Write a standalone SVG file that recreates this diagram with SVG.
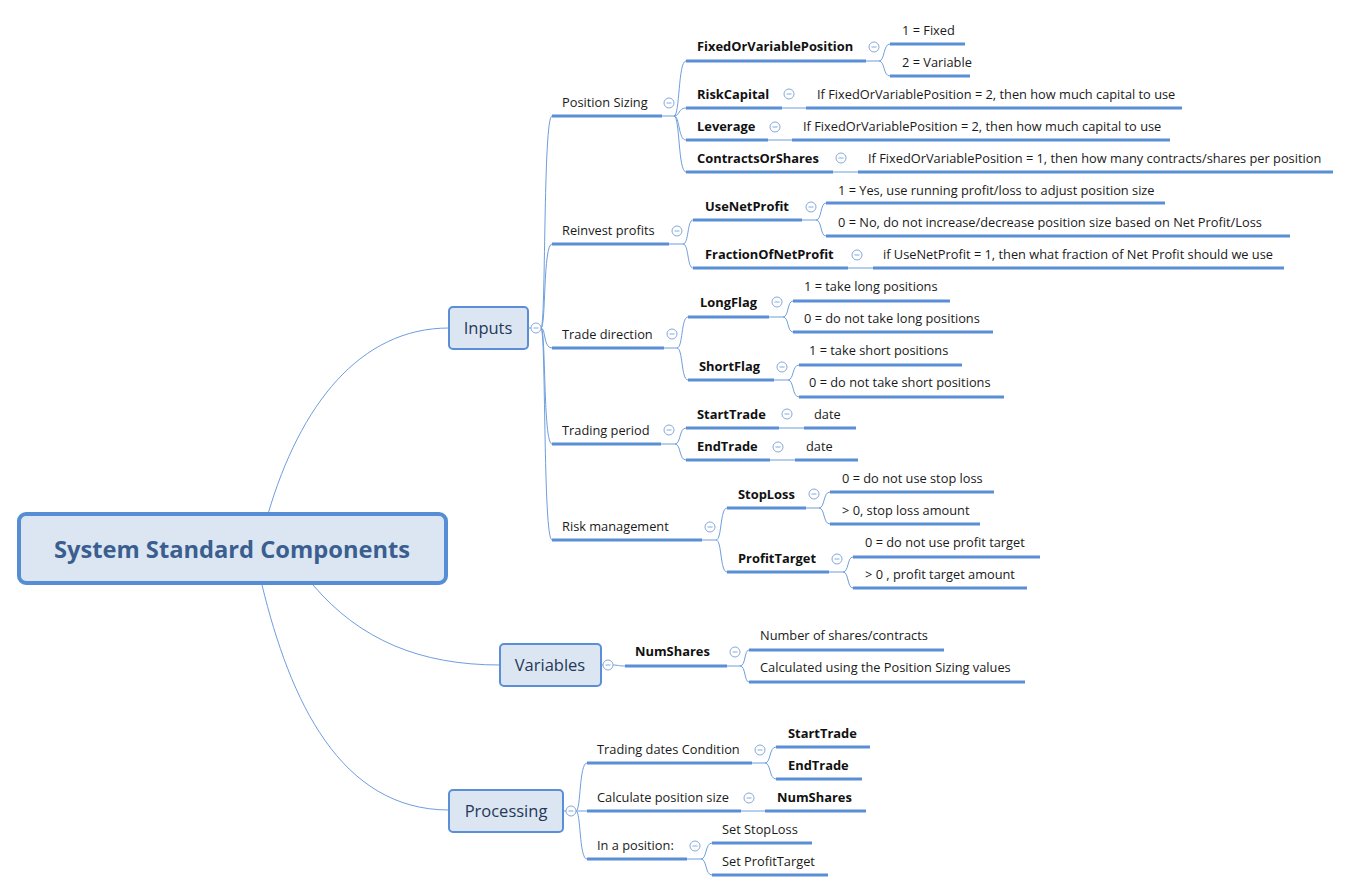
<svg xmlns="http://www.w3.org/2000/svg" width="1351" height="892" viewBox="0 0 1351 892">
<style>
.u{stroke:#5A8ED6;stroke-width:3;fill:none}
.c{stroke:#6E9EDD;stroke-width:1;fill:none}
.t{font-family:"Open Sans","Liberation Sans",sans-serif;font-size:12.8px;fill:#1a1a1a}
.b{font-family:"Open Sans","Liberation Sans",sans-serif;font-size:12.9px;font-weight:bold;fill:#111}
.m{fill:#DCE6F2;stroke:#5A8ED6;stroke-width:2}
.mt{font-family:"Open Sans","Liberation Sans",sans-serif;font-size:16.5px;fill:#243858;text-anchor:middle}
.ci{fill:#fff;stroke:#86A9DA;stroke-width:1}
.mi{stroke:#86A9DA;stroke-width:1}
</style>
<defs>
<g id="col"><circle class="ci" cx="0" cy="0" r="5"/><line class="mi" x1="-2.5" y1="0" x2="2.5" y2="0"/></g>
</defs>
<rect width="1351" height="892" fill="#fff"/>

<g id="connectors">
<!-- root to main topics -->
<path class="c" d="M268 514 C300 405,360 328,449 328"/>
<path class="c" d="M313 585 C360 640,420 665,500 665"/>
<path class="c" d="M262 585 C290 700,340 810,449 810"/>
<!-- Inputs trunk -->
<path class="c" d="M528 328 H531"/>
<path class="c" d="M541 328 C546 328,543 116,552 116"/>
<path class="c" d="M541 328 C546 328,543 244,552 244"/>
<path class="c" d="M541 328 C546 328,543 348,552 348"/>
<path class="c" d="M541 328 C546 328,543 444,552 444"/>
<path class="c" d="M541 328 C546 328,543 540,552 540"/>
<!-- Position Sizing fan -->
<path class="c" d="M662 116 H674 C680 116,678 61,686 61"/>
<path class="c" d="M674 116 C680 116,678 108,686 108"/>
<path class="c" d="M674 116 C680 116,678 140,686 140"/>
<path class="c" d="M674 116 C680 116,678 172,686 172"/>
<path class="c" d="M866 61 H879 C885 61,883 44,890 44"/>
<path class="c" d="M879 61 C885 61,883 76,890 76"/>
<path class="c" d="M782 108 H806"/>
<path class="c" d="M768 140 H792"/>
<path class="c" d="M833 172 H858"/>
<!-- Reinvest profits fan -->
<path class="c" d="M669 244 H683 C689 244,687 220,693 220"/>
<path class="c" d="M683 244 C689 244,687 268,693 268"/>
<path class="c" d="M802 220 H816 C822 220,820 203,826 203"/>
<path class="c" d="M816 220 C822 220,820 236,826 236"/>
<path class="c" d="M848 268 H873"/>
<!-- Trade direction fan -->
<path class="c" d="M664 348 H677 C683 348,681 317,688 317"/>
<path class="c" d="M677 348 C683 348,681 380,688 380"/>
<path class="c" d="M769 317 H783 C789 317,787 301,793 301"/>
<path class="c" d="M783 317 C789 317,787 332,793 332"/>
<path class="c" d="M774 380 H788 C794 380,792 365,799 365"/>
<path class="c" d="M788 380 C794 380,792 397,799 397"/>
<!-- Trading period fan -->
<path class="c" d="M661 444 H675 C681 444,679 428,686 428"/>
<path class="c" d="M675 444 C681 444,679 460,686 460"/>
<path class="c" d="M779 428 H804"/>
<path class="c" d="M770 460 H795"/>
<!-- Risk management fan -->
<path class="c" d="M702 540 H716 C722 540,720 508,727 508"/>
<path class="c" d="M716 540 C722 540,720 572,727 572"/>
<path class="c" d="M806 508 H819 C825 508,823 492,830 492"/>
<path class="c" d="M819 508 C825 508,823 524,830 524"/>
<path class="c" d="M829 572 H843 C849 572,847 557,853 557"/>
<path class="c" d="M843 572 C849 572,847 588,853 588"/>
<!-- Variables -->
<path class="c" d="M601 665 H603"/>
<path class="c" d="M613 665 C618 665,618 666,625 666"/>
<path class="c" d="M727 666 H740 C746 666,744 650,749 650"/>
<path class="c" d="M740 666 C746 666,744 682,749 682"/>
<!-- Processing -->
<path class="c" d="M563 811 H566"/>
<path class="c" d="M576 811 C581 811,579 763,587 763"/>
<path class="c" d="M576 811 H587"/>
<path class="c" d="M576 811 C581 811,579 859,587 859"/>
<path class="c" d="M752 763 H765 C771 763,769 747,776 747"/>
<path class="c" d="M765 763 C771 763,769 779,776 779"/>
<path class="c" d="M741 811 H765"/>
<path class="c" d="M687 859 H701 C707 859,705 843,712 843"/>
<path class="c" d="M701 859 C707 859,705 875,712 875"/>
</g>

<g id="root">
<rect x="19" y="514" width="427" height="69" rx="7" fill="#DCE6F2" stroke="#558ED5" stroke-width="4"/>
<text x="232" y="558" text-anchor="middle" font-family="Open Sans, Liberation Sans, sans-serif" font-size="23.7" font-weight="bold" fill="#3A5F8F">System Standard Components</text>
</g>

<g id="inputs">
<rect class="m" x="449" y="307" width="79" height="42" rx="4"/>
<text class="mt" x="488" y="334">Inputs</text>
<use href="#col" x="536" y="328"/>
</g>

<g id="position-sizing">
<line class="u" x1="552" y1="116" x2="662" y2="116"/>
<text class="t" x="562" y="107">Position Sizing</text>
<use href="#col" x="669" y="103"/>
</g>
<g id="fixed-or-variable">
<line class="u" x1="686" y1="61" x2="866" y2="61"/>
<text class="b" x="697" y="51">FixedOrVariablePosition</text>
<use href="#col" x="874" y="47"/>
</g>
<g id="fixed-1"><line class="u" x1="890" y1="44" x2="965" y2="44"/><text class="t" x="902" y="35">1 = Fixed</text></g>
<g id="variable-2"><line class="u" x1="890" y1="76" x2="970" y2="76"/><text class="t" x="902" y="67">2 = Variable</text></g>
<g id="risk-capital">
<line class="u" x1="686" y1="108" x2="782" y2="108"/>
<text class="b" x="697" y="99">RiskCapital</text>
<use href="#col" x="789" y="94"/>
</g>
<g id="risk-capital-desc"><line class="u" x1="806" y1="108" x2="1182" y2="108"/><text class="t" x="817" y="99">If FixedOrVariablePosition = 2, then how much capital to use</text></g>
<g id="leverage">
<line class="u" x1="686" y1="140" x2="768" y2="140"/>
<text class="b" x="697" y="131">Leverage</text>
<use href="#col" x="775" y="127"/>
</g>
<g id="leverage-desc"><line class="u" x1="792" y1="140" x2="1170" y2="140"/><text class="t" x="803" y="131">If FixedOrVariablePosition = 2, then how much capital to use</text></g>
<g id="contracts-or-shares">
<line class="u" x1="686" y1="172" x2="833" y2="172"/>
<text class="b" x="697" y="163">ContractsOrShares</text>
<use href="#col" x="841" y="158"/>
</g>
<g id="contracts-desc"><line class="u" x1="858" y1="172" x2="1333" y2="172"/><text class="t" x="868" y="163">If FixedOrVariablePosition = 1, then how many contracts/shares per position</text></g>

<g id="reinvest-profits">
<line class="u" x1="552" y1="244" x2="669" y2="244"/>
<text class="t" x="562" y="235">Reinvest profits</text>
<use href="#col" x="677" y="231"/>
</g>
<g id="use-net-profit">
<line class="u" x1="693" y1="220" x2="802" y2="220"/>
<text class="b" x="705" y="211">UseNetProfit</text>
<use href="#col" x="811" y="207"/>
</g>
<g id="unp-1"><line class="u" x1="826" y1="203" x2="1165" y2="203"/><text class="t" x="838" y="195">1 = Yes, use running profit/loss to adjust position size</text></g>
<g id="unp-0"><line class="u" x1="826" y1="236" x2="1290" y2="236"/><text class="t" x="838" y="227">0 = No, do not increase/decrease position size based on Net Profit/Loss</text></g>
<g id="fraction-net-profit">
<line class="u" x1="693" y1="268" x2="848" y2="268"/>
<text class="b" x="705" y="259">FractionOfNetProfit</text>
<use href="#col" x="857" y="255"/>
</g>
<g id="fraction-desc"><line class="u" x1="873" y1="268" x2="1284" y2="268"/><text class="t" x="883" y="259">if UseNetProfit = 1, then what fraction of Net Profit should we use</text></g>

<g id="trade-direction">
<line class="u" x1="552" y1="348" x2="664" y2="348"/>
<text class="t" x="562" y="339">Trade direction</text>
<use href="#col" x="672" y="334"/>
</g>
<g id="long-flag">
<line class="u" x1="688" y1="317" x2="769" y2="317"/>
<text class="b" x="700" y="307">LongFlag</text>
<use href="#col" x="777" y="302"/>
</g>
<g id="long-1"><line class="u" x1="793" y1="301" x2="950" y2="301"/><text class="t" x="804" y="291">1 = take long positions</text></g>
<g id="long-0"><line class="u" x1="793" y1="332" x2="993" y2="332"/><text class="t" x="804" y="323">0 = do not take long positions</text></g>
<g id="short-flag">
<line class="u" x1="688" y1="380" x2="774" y2="380"/>
<text class="b" x="699" y="371">ShortFlag</text>
<use href="#col" x="782" y="367"/>
</g>
<g id="short-1"><line class="u" x1="799" y1="365" x2="962" y2="365"/><text class="t" x="809" y="355">1 = take short positions</text></g>
<g id="short-0"><line class="u" x1="799" y1="397" x2="1004" y2="397"/><text class="t" x="809" y="387">0 = do not take short positions</text></g>

<g id="trading-period">
<line class="u" x1="552" y1="444" x2="661" y2="444"/>
<text class="t" x="562" y="435">Trading period</text>
<use href="#col" x="669" y="430"/>
</g>
<g id="start-trade">
<line class="u" x1="686" y1="428" x2="779" y2="428"/>
<text class="b" x="697" y="419">StartTrade</text>
<use href="#col" x="787" y="414"/>
</g>
<g id="start-date"><line class="u" x1="804" y1="428" x2="856" y2="428"/><text class="t" x="814" y="419">date</text></g>
<g id="end-trade">
<line class="u" x1="686" y1="460" x2="770" y2="460"/>
<text class="b" x="697" y="451">EndTrade</text>
<use href="#col" x="778" y="447"/>
</g>
<g id="end-date"><line class="u" x1="795" y1="460" x2="858" y2="460"/><text class="t" x="806" y="451">date</text></g>

<g id="risk-management">
<line class="u" x1="552" y1="540" x2="702" y2="540"/>
<text class="t" x="562" y="531">Risk management</text>
<use href="#col" x="710" y="527"/>
</g>
<g id="stop-loss">
<line class="u" x1="727" y1="508" x2="806" y2="508"/>
<text class="b" x="738" y="499">StopLoss</text>
<use href="#col" x="814" y="494"/>
</g>
<g id="sl-0"><line class="u" x1="830" y1="492" x2="994" y2="492"/><text class="t" x="842" y="483">0 = do not use stop loss</text></g>
<g id="sl-gt0"><line class="u" x1="830" y1="524" x2="980" y2="524"/><text class="t" x="842" y="515">&gt; 0, stop loss amount</text></g>
<g id="profit-target">
<line class="u" x1="727" y1="572" x2="829" y2="572"/>
<text class="b" x="738" y="563">ProfitTarget</text>
<use href="#col" x="837" y="559"/>
</g>
<g id="pt-0"><line class="u" x1="853" y1="557" x2="1040" y2="557"/><text class="t" x="865" y="547">0 = do not use profit target</text></g>
<g id="pt-gt0"><line class="u" x1="853" y1="588" x2="1027" y2="588"/><text class="t" x="865" y="579">&gt; 0 , profit target amount</text></g>

<g id="variables">
<rect class="m" x="500" y="644" width="101" height="42" rx="4"/>
<text class="mt" x="550" y="671">Variables</text>
<use href="#col" x="608" y="665"/>
</g>
<g id="num-shares-var">
<line class="u" x1="625" y1="666" x2="727" y2="666"/>
<text class="b" x="635" y="656">NumShares</text>
<use href="#col" x="735" y="652"/>
</g>
<g id="ns-desc1"><line class="u" x1="749" y1="650" x2="944" y2="650"/><text class="t" x="760" y="640">Number of shares/contracts</text></g>
<g id="ns-desc2"><line class="u" x1="749" y1="682" x2="1025" y2="682"/><text class="t" x="760" y="672">Calculated using the Position Sizing values</text></g>

<g id="processing">
<rect class="m" x="449" y="790" width="114" height="42" rx="4"/>
<text class="mt" x="506" y="817">Processing</text>
<use href="#col" x="571" y="811"/>
</g>
<g id="trading-dates-condition">
<line class="u" x1="587" y1="763" x2="752" y2="763"/>
<text class="t" x="597" y="754">Trading dates Condition</text>
<use href="#col" x="760" y="750"/>
</g>
<g id="p-start-trade"><line class="u" x1="776" y1="747" x2="870" y2="747"/><text class="b" x="788" y="738">StartTrade</text></g>
<g id="p-end-trade"><line class="u" x1="776" y1="779" x2="862" y2="779"/><text class="b" x="788" y="770">EndTrade</text></g>
<g id="calc-position-size">
<line class="u" x1="587" y1="811" x2="741" y2="811"/>
<text class="t" x="597" y="802">Calculate position size</text>
<use href="#col" x="749" y="798"/>
</g>
<g id="p-num-shares"><line class="u" x1="765" y1="811" x2="866" y2="811"/><text class="b" x="777" y="802">NumShares</text></g>
<g id="in-a-position">
<line class="u" x1="587" y1="859" x2="687" y2="859"/>
<text class="t" x="597" y="850">In a position:</text>
<use href="#col" x="695" y="846"/>
</g>
<g id="set-stop-loss"><line class="u" x1="712" y1="843" x2="812" y2="843"/><text class="t" x="722" y="834">Set StopLoss</text></g>
<g id="set-profit-target"><line class="u" x1="712" y1="875" x2="828" y2="875"/><text class="t" x="722" y="866">Set ProfitTarget</text></g>
</svg>
